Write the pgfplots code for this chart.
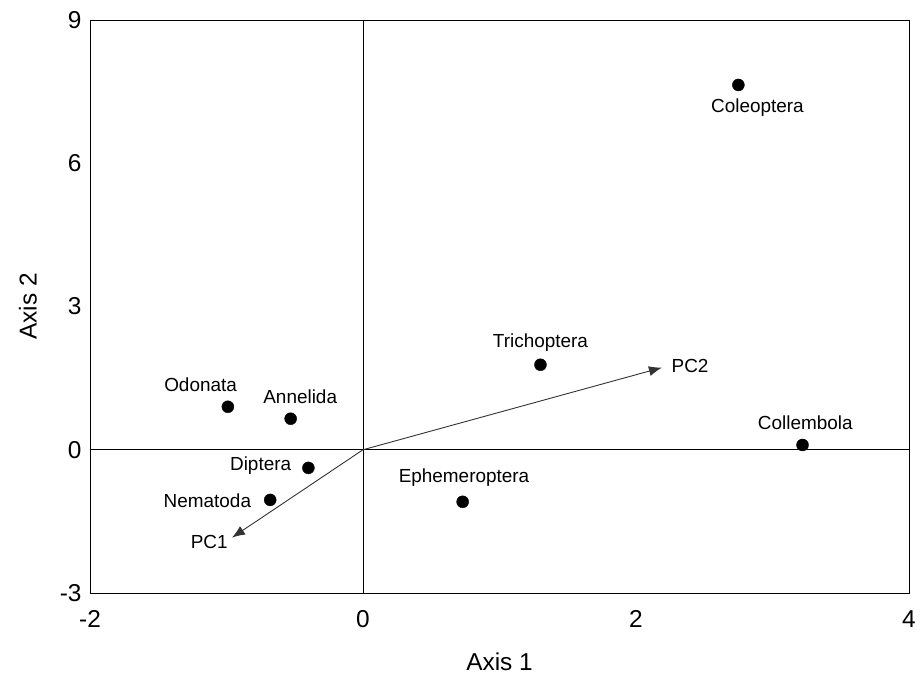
\documentclass[border=0pt]{standalone}
\usepackage{fontspec}
\setmainfont{Liberation Sans}
\usepackage{pgfplots}
\pgfplotsset{compat=1.18}
\usetikzlibrary{arrows.meta,calc}
\begin{document}
\begin{tikzpicture}
\begin{axis}[
  scale only axis,
  width=819bp, height=573bp,
  xmin=-2, xmax=4, ymin=-3, ymax=9,
  xtick={-2,0,2,4}, ytick={-3,0,3,6,9},
  major tick length=0pt,
  /pgf/number format/assume math mode=true,
  tick label style={font=\fontsize{24.5}{28}\selectfont},
  xticklabel style={yshift=-14bp},
  yticklabel style={xshift=-5bp},
  xlabel={Axis 1}, ylabel={Axis 2},
  label style={font=\fontsize{24.5}{28}\selectfont},
  xlabel style={yshift=-18bp},
  ylabel style={yshift=16bp},
  axis line style={line width=0.9bp},
  clip=false,
]
\addplot[black, line width=0.6bp] coordinates {(0,-3) (0,9)};
\addplot[black, line width=0.6bp] coordinates {(-2,0) (4,0)};
\addplot[only marks, mark=*, mark size=6bp, black] coordinates {
  (2.75,7.64) (1.30,1.78) (3.22,0.10) (0.73,-1.09)
  (-0.99,0.90) (-0.53,0.65) (-0.40,-0.38) (-0.68,-1.05)};
\addplot[black!80, line width=0.9bp, -{Latex[length=13bp,width=10bp]}] coordinates {(0,0) (2.19,1.72)};
\addplot[black!80, line width=0.9bp, -{Latex[length=13bp,width=10bp]}] coordinates {(0,0) (-0.96,-1.84)};
\begin{scope}[every node/.style={font=\fontsize{19}{22}\selectfont, inner sep=0pt}]
\node at (axis cs:2.89,7.16) {Coleoptera};
\node at (axis cs:1.30,2.24) {Trichoptera};
\node at (axis cs:3.24,0.56) {Collembola};
\node at (axis cs:0.74,-0.59) {Ephemeroptera};
\node at (axis cs:-1.19,1.36) {Odonata};
\node at (axis cs:-0.46,1.11) {Annelida};
\node at (axis cs:-0.75,-0.34) {Diptera};
\node at (axis cs:-1.14,-1.07) {Nematoda};
\node[anchor=west] at (axis cs:2.26,1.76) {PC2};
\node[anchor=east] at (axis cs:-0.99,-1.94) {PC1};
\end{scope}
\end{axis}
\pgfresetboundingbox
\path ($(current axis.south west)+(-90bp,-85bp)$) rectangle ($(current axis.north east)+(11bp,20bp)$);
\end{tikzpicture}
\end{document}
